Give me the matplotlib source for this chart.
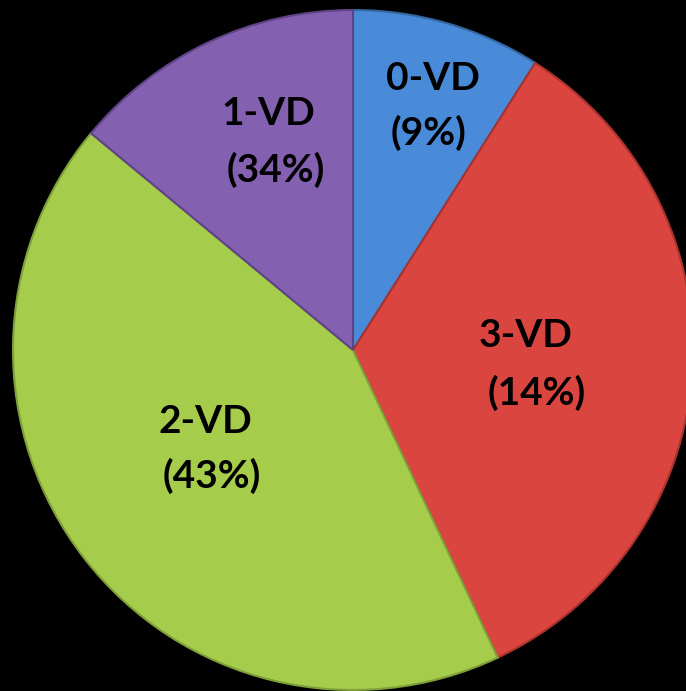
import matplotlib.pyplot as plt

# slice sizes (clockwise from 12 o'clock) and the text printed on them
shares = [9, 34, 43, 14]
names = ['0-VD', '3-VD', '2-VD', '1-VD']
pct_labels = ['(9%)', '(14%)', '(43%)', '(34%)']

colors = ['#4a8bd9', '#db4540', '#a5cc4b', '#8460b0']
edges = ['#34679f', '#a8322e', '#7f9f38', '#5e4486']

# baselines of the two text lines, pixel coords (x centre, y from top)
name_xy = [(433, 90), (526, 347), (205, 433), (268, 125)]
pct_xy = [(429, 145), (537, 405), (212, 488), (276, 182)]

W, H = 686, 691
cx, cy, r = 353, 350, 340

fig = plt.figure(figsize=(W / 100, H / 100), dpi=100, facecolor='black')
ax = fig.add_axes([0, 0, 1, 1])
ax.set_facecolor('black')

wedges, _ = ax.pie(shares, colors=colors, startangle=90, counterclock=False,
                   center=(cx, H - cy), radius=r,
                   wedgeprops=dict(linewidth=1.5))
for w, ec in zip(wedges, edges):
    w.set_edgecolor(ec)

font = dict(ha='center', va='baseline', fontsize=28, fontweight='bold',
            family=['Lato', 'DejaVu Sans'], color='black')
for (x1, y1), (x2, y2), n, p in zip(name_xy, pct_xy, names, pct_labels):
    ax.text(x1, H - y1, n, **font)
    ax.text(x2, H - y2, p, **font)

ax.set_xlim(0, W)
ax.set_ylim(0, H)
ax.set_aspect('equal')
ax.axis('off')

fig.savefig('out.png', dpi=100, facecolor='black')
